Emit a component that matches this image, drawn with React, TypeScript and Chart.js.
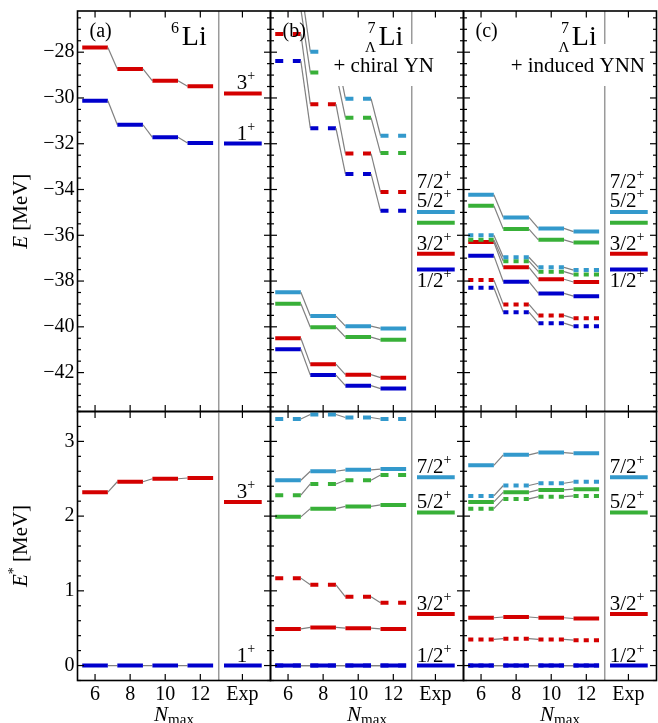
import React, { useEffect, useRef } from 'react';
import { Chart, registerables } from 'chart.js';
Chart.register(...registerables);

const W = 658;
const H = 723;
const FONT = '"Liberation Serif", "Times New Roman", Times, serif';

// ---------------- data ----------------
const NMAX = [6, 8, 10, 12];
const X_TICKS = [6, 8, 10, 12, 14.4];
const X_TICK_LABELS = ['6', '8', '10', '12', 'Exp'];
const Y_TICKS_E = [-42, -40, -38, -36, -34, -32, -30, -28];
const Y_TICKS_EX = [0, 1, 2, 3];

// (a) 6Li : 3+, 1+
const A_E_3P = [-27.8, -28.73, -29.25, -29.49];
const A_E_1P = [-30.12, -31.17, -31.72, -31.97];
const A_EX_3P = [2.32, 2.46, 2.5, 2.51];
const A_EX_1P = [0, 0, 0, 0];
const LI6_LABELS = ['3', '1'];
const LI6_EXP_E = [-29.8, -31.99];
const LI6_EXP_EX = [2.19, 0];

// 7ΛLi experiment: 7/2+, 5/2+, 3/2+, 1/2+
const L7_LABELS = ['7/2', '5/2', '3/2', '1/2'];
const L7_EXP_E = [-34.98, -35.45, -36.81, -37.5];
const L7_EXP_EX = [2.52, 2.05, 0.69, 0];

// (b) + chiral YN : solid and dashed
const B_E_72 = [-38.49, -39.53, -39.97, -40.07];
const B_E_52 = [-38.99, -40.02, -40.45, -40.57];
const B_E_32 = [-40.5, -41.63, -42.09, -42.22];
const B_E_12 = [-40.98, -42.11, -42.57, -42.7];
const B_E_72D = [-25.09, -27.98, -30.03, -31.65];
const B_E_52D = [-26.12, -28.89, -30.86, -32.41];
const B_E_32D = [-27.2, -30.27, -32.43, -34.11];
const B_E_12D = [-28.39, -31.32, -33.32, -34.93];
const B_EX_72 = [2.48, 2.6, 2.62, 2.63];
const B_EX_52 = [1.99, 2.1, 2.13, 2.15];
const B_EX_32 = [0.49, 0.51, 0.5, 0.49];
const B_EX_12 = [0, 0, 0, 0];
const B_EX_72D = [3.3, 3.36, 3.32, 3.3];
const B_EX_52D = [2.28, 2.43, 2.48, 2.55];
const B_EX_32D = [1.17, 1.08, 0.92, 0.84];
const B_EX_12D = [0, 0, 0, 0];

// (c) + induced YNN : solid and dotted
const C_E_72 = [-34.23, -35.22, -35.7, -35.84];
const C_E_52 = [-34.71, -35.73, -36.2, -36.32];
const C_E_32 = [-36.29, -37.4, -37.92, -38.04];
const C_E_12 = [-36.89, -38.03, -38.54, -38.66];
const C_E_72D = [-36.0, -36.96, -37.4, -37.52];
const C_E_52D = [-36.2, -37.13, -37.59, -37.71];
const C_E_32D = [-37.95, -39.02, -39.5, -39.63];
const C_E_12D = [-38.29, -39.36, -39.84, -39.97];
const C_EX_72 = [2.68, 2.82, 2.85, 2.84];
const C_EX_52 = [2.19, 2.32, 2.35, 2.36];
const C_EX_32 = [0.64, 0.65, 0.64, 0.63];
const C_EX_12 = [0, 0, 0, 0];
const C_EX_72D = [2.27, 2.41, 2.44, 2.46];
const C_EX_52D = [2.1, 2.23, 2.26, 2.27];
const C_EX_32D = [0.35, 0.36, 0.35, 0.34];
const C_EX_12D = [0, 0, 0, 0];

// ---------------- style ----------------
const RED = '#d40000';
const BLUE = '#0000cc';
const GREEN = '#38b038';
const LBLUE = '#3399cc';
const GRAY = '#808080';
const SEP_COLOR = '#9a9a9a';
const HALF = 0.73;
const EXP_L = 13.35;
const EXP_R = 15.5;
const SEP_X = 13.05;
const X_MIN = 5;
const X_MAX = 16;
const BAR_W = 4;
const YW = 70;
const XH = 30;

const COLS = [
  { L: 77.5, R: 270.5 },
  { L: 270.5, R: 463.5 },
  { L: 463.5, R: 656.5 },
];
const ROWS = [
  { T: 11, B: 411.5, min: -43.7, max: -26.2, majors: Y_TICKS_E, major: 2, minor: 0.5 },
  { T: 411.5, B: 680.5, min: -0.2, max: 3.4, majors: Y_TICKS_EX, major: 1, minor: 0.2 },
];

function levelDataset(values: number[], color: string, style: string) {
  const data: { x: number; y: number }[] = [];
  values.forEach((v, i) => {
    data.push({ x: NMAX[i] - HALF, y: v }, { x: NMAX[i] + HALF, y: v });
  });
  const dash = style === 'dash' ? [8, 9.6] : style === 'dot' ? [5.1, 5.1] : [];
  return {
    data,
    borderColor: color,
    borderWidth: BAR_W,
    pointRadius: 0,
    fill: false,
    tension: 0,
    clip: 0,
    borderCapStyle: 'butt',
    segment: {
      borderColor: (c: any) => (c.p0DataIndex % 2 === 0 ? color : GRAY),
      borderWidth: (c: any) => (c.p0DataIndex % 2 === 0 ? BAR_W : 1.2),
      borderDash: (c: any) => (c.p0DataIndex % 2 === 0 ? dash : []),
    },
  };
}

function expDataset(v: number, color: string) {
  return {
    data: [
      { x: EXP_L, y: v },
      { x: EXP_R, y: v },
    ],
    borderColor: color,
    borderWidth: BAR_W,
    pointRadius: 0,
    fill: false,
    clip: 0,
    borderCapStyle: 'butt',
  };
}

type Part = { t: string; s: number; i?: boolean; dy?: number };

function drawRich(ctx: CanvasRenderingContext2D, parts: Part[], x: number, y: number, align: string) {
  ctx.textAlign = 'left';
  ctx.textBaseline = 'alphabetic';
  const widths = parts.map((p) => {
    ctx.font = `${p.i ? 'italic ' : ''}${p.s}px ${FONT}`;
    return ctx.measureText(p.t).width;
  });
  const total = widths.reduce((a, b) => a + b, 0);
  let cx = align === 'center' ? x - total / 2 : align === 'right' ? x - total : x;
  parts.forEach((p, k) => {
    ctx.font = `${p.i ? 'italic ' : ''}${p.s}px ${FONT}`;
    ctx.fillText(p.t, cx, y + (p.dy || 0));
    cx += widths[k];
  });
  return total;
}

function levelLabel(ctx: CanvasRenderingContext2D, main: string, x: number, y: number) {
  drawRich(ctx, [{ t: main, s: 21 }, { t: '+', s: 14, dy: -9 }], x, y, 'left');
}

function drawNucleus(ctx: CanvasRenderingContext2D, a: any, rightOff: number, mass: string, hyper: boolean) {
  ctx.fillStyle = '#000';
  ctx.textBaseline = 'alphabetic';
  const base = a.top + 33.5;
  const right = a.left + rightOff;
  ctx.font = `28px ${FONT}`;
  ctx.textAlign = 'right';
  ctx.fillText('Li', right, base);
  const wLi = ctx.measureText('Li').width;
  const lx = right - wLi;
  ctx.font = `16px ${FONT}`;
  ctx.fillText(mass, lx - 2.8, base - 12);
  if (hyper) {
    ctx.font = `15px ${FONT}`;
    ctx.fillText('\u039B', lx - 2.5, base + 7.7);
  }
}

function makePlugin(col: number, row: number) {
  const r = ROWS[row];
  return {
    id: 'decor' + col + row,
    beforeDatasetsDraw(chart: any) {
      const ctx = chart.ctx as CanvasRenderingContext2D;
      const a = chart.chartArea;
      const sx = chart.scales.x.getPixelForValue(SEP_X);
      ctx.save();
      ctx.strokeStyle = SEP_COLOR;
      ctx.lineWidth = 1.5;
      ctx.beginPath();
      ctx.moveTo(sx, a.top);
      ctx.lineTo(sx, a.bottom);
      ctx.stroke();
      ctx.restore();
    },
    afterDatasetsDraw(chart: any) {
      const ctx = chart.ctx as CanvasRenderingContext2D;
      const a = chart.chartArea;
      const xs = chart.scales.x;
      const ys = chart.scales.y;
      ctx.save();
      ctx.fillStyle = '#000';

      // panel annotations
      if (row === 0) {
        if (col === 1) {
          ctx.fillStyle = '#fff';
          ctx.fillRect(a.left + 54.5, a.top + 33, 117, 42);
        }
        if (col === 2) {
          ctx.fillStyle = '#fff';
          ctx.fillRect(a.left + 37.5, a.top + 33, 152, 42);
        }
        ctx.fillStyle = '#000';
        const tag = ['(a)', '(b)', '(c)'][col];
        drawRich(ctx, [{ t: tag, s: 20 }], a.left + 12, a.top + 26, 'left');
        if (col === 0) drawNucleus(ctx, a, 129.2, '6', false);
        if (col === 1) {
          drawNucleus(ctx, a, 132.8, '7', true);
          drawRich(ctx, [{ t: '+ chiral YN', s: 21 }], a.left + 163.5, a.top + 60.7, 'right');
        }
        if (col === 2) {
          drawNucleus(ctx, a, 133.2, '7', true);
          drawRich(ctx, [{ t: '+ induced YNN', s: 21 }], a.left + 181.5, a.top + 60.7, 'right');
        }
      }

      // level labels in the Exp column
      if (col === 0) {
        const vals = row === 0 ? LI6_EXP_E : LI6_EXP_EX;
        const lx = xs.getPixelForValue(14.07);
        vals.forEach((v, k) => levelLabel(ctx, LI6_LABELS[k], lx, ys.getPixelForValue(v) - 4));
      } else {
        const vals = row === 0 ? L7_EXP_E : L7_EXP_EX;
        const lx = xs.getPixelForValue(13.33);
        vals.forEach((v, k) => {
          let yy;
          if (row === 0) {
            if (k === 0) yy = ys.getPixelForValue(vals[0]) - 23.7;
            else if (k === 1) yy = ys.getPixelForValue(vals[0]) - 4.7;
            else if (k === 2) yy = ys.getPixelForValue(v) - 3.7;
            else yy = ys.getPixelForValue(v) + 17.3;
          } else {
            yy = ys.getPixelForValue(v) - 4;
          }
          levelLabel(ctx, L7_LABELS[k], lx, yy);
        });
      }

      // axis titles
      if (col === 0) {
        const cy = (a.top + a.bottom) / 2;
        ctx.save();
        ctx.translate(27, cy);
        ctx.rotate(-Math.PI / 2);
        if (row === 0) {
          drawRich(ctx, [{ t: 'E', s: 21, i: true }, { t: ' [MeV]', s: 21 }], 0, 0, 'center');
        } else {
          drawRich(
            ctx,
            [{ t: 'E', s: 21, i: true }, { t: '*', s: 14, dy: -9 }, { t: ' [MeV]', s: 21 }],
            0,
            0,
            'center'
          );
        }
        ctx.restore();
      }
      if (row === 1) {
        drawRich(
          ctx,
          [{ t: 'N', s: 21, i: true }, { t: 'max', s: 15, dy: 3 }],
          (a.left + a.right) / 2,
          720.5,
          'center'
        );
      }

      // frame
      ctx.strokeStyle = '#000';
      ctx.lineWidth = 1.6;
      ctx.strokeRect(a.left, a.top, a.right - a.left, a.bottom - a.top);

      // inward ticks
      ctx.lineWidth = 1.2;
      const seg = (x1: number, y1: number, x2: number, y2: number) => {
        ctx.beginPath();
        ctx.moveTo(x1, y1);
        ctx.lineTo(x2, y2);
        ctx.stroke();
      };
      const k0 = Math.ceil(r.min / r.minor - 1e-9);
      for (let k = k0; k * r.minor <= r.max + 1e-9; k++) {
        const v = k * r.minor;
        const py = ys.getPixelForValue(v);
        const q = v / r.major;
        const isMajor = Math.abs(q - Math.round(q)) < 1e-6;
        const len = isMajor ? 6.5 : 3.5;
        seg(a.left, py, a.left + len, py);
        seg(a.right, py, a.right - len, py);
      }
      X_TICKS.forEach((v) => {
        const px = xs.getPixelForValue(v);
        seg(px, a.bottom, px, a.bottom - 6.5);
        seg(px, a.top, px, a.top + 6.5);
      });
      ctx.restore();
    },
  };
}

function panelDatasets(col: number, row: number) {
  const ds: any[] = [];
  if (col === 0) {
    const s = row === 0 ? [A_E_3P, A_E_1P] : [A_EX_3P, A_EX_1P];
    const e = row === 0 ? LI6_EXP_E : LI6_EXP_EX;
    ds.push(levelDataset(s[0], RED, 'solid'), levelDataset(s[1], BLUE, 'solid'));
    ds.push(expDataset(e[0], RED), expDataset(e[1], BLUE));
    return ds;
  }
  const colors = [LBLUE, GREEN, RED, BLUE];
  let solid: number[][];
  let other: number[][];
  if (col === 1) {
    solid = row === 0 ? [B_E_72, B_E_52, B_E_32, B_E_12] : [B_EX_72, B_EX_52, B_EX_32, B_EX_12];
    other = row === 0 ? [B_E_72D, B_E_52D, B_E_32D, B_E_12D] : [B_EX_72D, B_EX_52D, B_EX_32D, B_EX_12D];
  } else {
    solid = row === 0 ? [C_E_72, C_E_52, C_E_32, C_E_12] : [C_EX_72, C_EX_52, C_EX_32, C_EX_12];
    other = row === 0 ? [C_E_72D, C_E_52D, C_E_32D, C_E_12D] : [C_EX_72D, C_EX_52D, C_EX_32D, C_EX_12D];
  }
  const style = col === 1 ? 'dash' : 'dot';
  other.forEach((v, k) => ds.push(levelDataset(v, colors[k], style)));
  solid.forEach((v, k) => ds.push(levelDataset(v, colors[k], 'solid')));
  const e = row === 0 ? L7_EXP_E : L7_EXP_EX;
  e.forEach((v, k) => ds.push(expDataset(v, colors[k])));
  return ds;
}

function makeConfig(col: number, row: number): any {
  const c = COLS[col];
  const r = ROWS[row];
  const showY = col === 0;
  const showX = row === 1;
  const zeroPad = (s: any) => {
    s.paddingLeft = 0;
    s.paddingRight = 0;
    s.paddingTop = 0;
    s.paddingBottom = 0;
  };
  return {
    type: 'line',
    data: { datasets: panelDatasets(col, row) },
    options: {
      responsive: false,
      animation: false,
      devicePixelRatio: 1,
      events: [],
      layout: {
        autoPadding: false,
        padding: {
          left: c.L - (showY ? YW : 0),
          right: W - c.R,
          top: r.T,
          bottom: H - r.B - (showX ? XH : 0),
        },
      },
      plugins: { legend: { display: false }, tooltip: { enabled: false }, title: { display: false } },
      scales: {
        x: {
          type: 'linear',
          min: X_MIN,
          max: X_MAX,
          display: showX,
          grid: { display: false, drawTicks: false },
          border: { display: false },
          afterBuildTicks: (s: any) => {
            s.ticks = X_TICKS.map((v) => ({ value: v }));
          },
          afterFit: (s: any) => {
            s.height = showX ? XH : 0;
            zeroPad(s);
          },
          ticks: {
            autoSkip: false,
            maxRotation: 0,
            minRotation: 0,
            padding: 2,
            color: '#000',
            font: { family: FONT, size: 20 },
            callback: (_v: any, i: number) => X_TICK_LABELS[i],
          },
        },
        y: {
          type: 'linear',
          min: r.min,
          max: r.max,
          display: showY,
          grid: { display: false, drawTicks: false },
          border: { display: false },
          afterBuildTicks: (s: any) => {
            s.ticks = r.majors.map((v) => ({ value: v }));
          },
          afterFit: (s: any) => {
            s.width = showY ? YW : 0;
            zeroPad(s);
          },
          ticks: {
            autoSkip: false,
            padding: 3,
            color: '#000',
            font: { family: FONT, size: 20 },
            callback: (v: any) => (v < 0 ? '\u2212' + Math.abs(v) : String(v)),
          },
        },
      },
    },
    plugins: [makePlugin(col, row)],
  };
}

function Panel({ col, row }: { col: number; row: number }) {
  const ref = useRef<HTMLCanvasElement>(null);
  useEffect(() => {
    const chart = new Chart(ref.current as HTMLCanvasElement, makeConfig(col, row));
    return () => chart.destroy();
  }, [col, row]);
  return (
    <canvas
      ref={ref}
      width={W}
      height={H}
      style={{ position: 'absolute', left: 0, top: 0, width: W, height: H }}
    />
  );
}

export default function App() {
  const cells: { col: number; row: number }[] = [];
  for (let row = 0; row < 2; row++) for (let col = 0; col < 3; col++) cells.push({ col, row });
  return (
    <div style={{ position: 'absolute', left: 0, top: 0, width: W, height: H, background: '#fff', overflow: 'hidden' }}>
      {cells.map((c) => (
        <Panel key={`${c.col}-${c.row}`} col={c.col} row={c.row} />
      ))}
    </div>
  );
}
